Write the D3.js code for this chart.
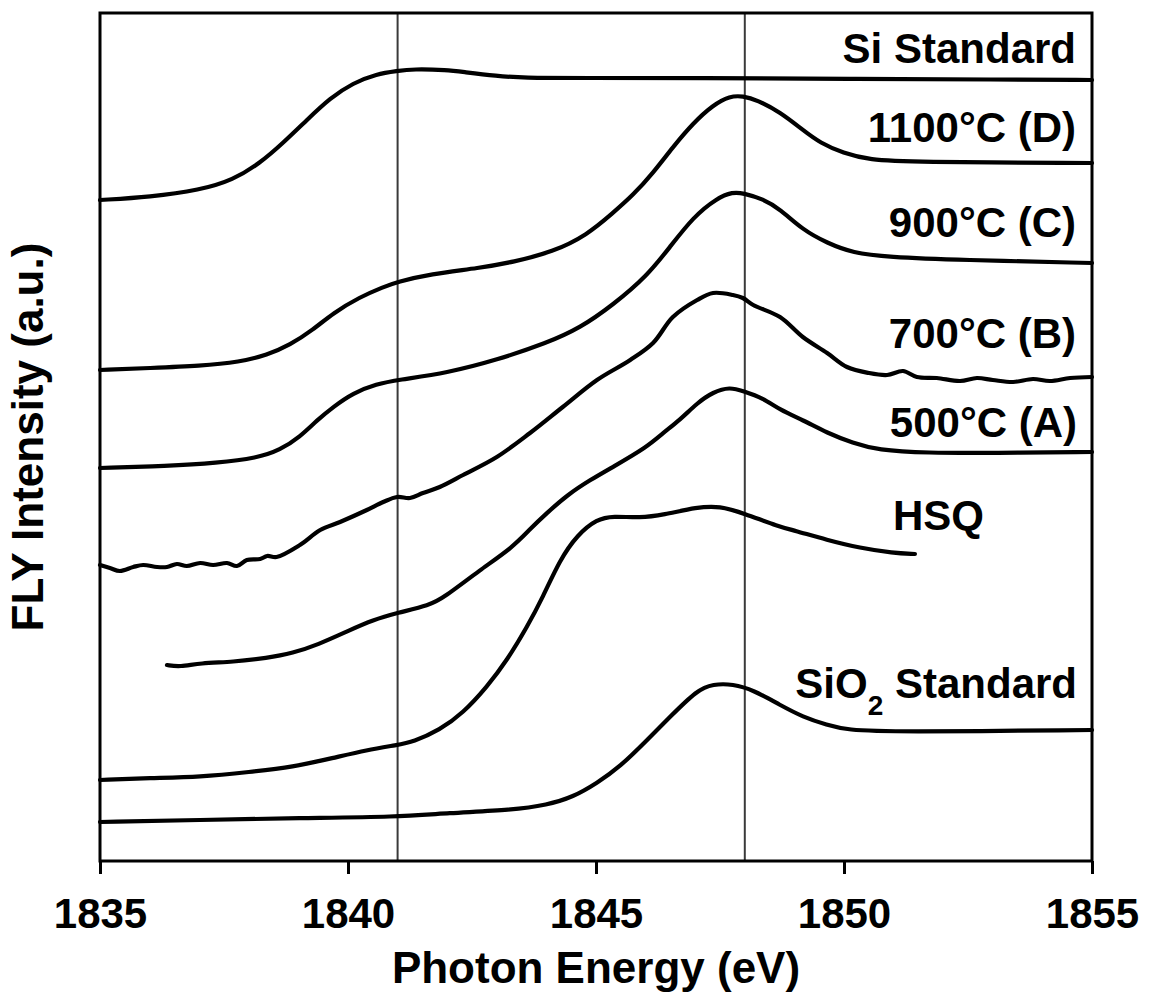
<!DOCTYPE html>
<html>
<head>
<meta charset="utf-8">
<script src="https://cdn.jsdelivr.net/npm/d3@7"></script>
<style>
  html, body { margin: 0; padding: 0; background: #fff; }
  svg { display: block; }
  text { font-family: "Liberation Sans", Arial, Helvetica, sans-serif; font-weight: bold; fill: #000; }
</style>
</head>
<body>
<svg id="chart" width="1151" height="997"></svg>
<script>
// Si K-edge FLY XANES spectra, curves offset vertically (arbitrary units)
const xTicks = [1835, 1840, 1845, 1850, 1855];
const refLines = [1841, 1848];

const siStandard = [
  [1835.00, 6.61], [1836.01, 6.64], [1837.02, 6.71], [1837.68, 6.81], [1838.23, 6.98],
  [1838.69, 7.18], [1839.17, 7.41], [1839.64, 7.63], [1840.10, 7.78], [1840.58, 7.87],
  [1840.99, 7.90], [1841.31, 7.92], [1842.00, 7.91], [1842.32, 7.89], [1843.00, 7.85],
  [1843.53, 7.83], [1844.68, 7.83], [1847.10, 7.83], [1850.10, 7.82], [1853.15, 7.815],
  [1855.00, 7.81]
];

const t1100 = [
  [1835.00, 4.91], [1836.01, 4.93], [1837.02, 4.95], [1837.82, 4.99], [1838.37, 5.06],
  [1838.83, 5.16], [1839.29, 5.31], [1839.70, 5.48], [1840.24, 5.64], [1840.71, 5.74],
  [1840.99, 5.79], [1841.65, 5.87], [1842.66, 5.93], [1843.33, 5.99], [1844.13, 6.09],
  [1844.82, 6.26], [1845.34, 6.48], [1845.75, 6.66], [1846.15, 6.88], [1846.55, 7.14],
  [1846.96, 7.38], [1847.36, 7.56], [1847.70, 7.65], [1847.96, 7.65], [1848.25, 7.61],
  [1848.71, 7.49], [1849.17, 7.31], [1849.52, 7.18], [1849.98, 7.08], [1850.52, 7.01],
  [1851.33, 6.99], [1855.00, 6.98]
];

const t900 = [
  [1835.00, 3.93], [1836.35, 3.95], [1837.36, 3.98], [1838.17, 4.03], [1838.63, 4.11],
  [1839.03, 4.24], [1839.38, 4.41], [1839.70, 4.54], [1840.10, 4.68], [1840.58, 4.77],
  [1840.99, 4.81], [1842.00, 4.88], [1843.00, 5.01], [1844.01, 5.18], [1844.68, 5.33],
  [1845.34, 5.56], [1846.03, 5.85], [1846.49, 6.14], [1846.96, 6.44], [1847.44, 6.63],
  [1847.76, 6.69], [1847.96, 6.68], [1848.37, 6.62], [1848.71, 6.52], [1849.17, 6.31],
  [1849.66, 6.18], [1850.18, 6.08], [1850.87, 6.04], [1852.34, 6.01], [1855.00, 5.98]
];

const t700 = [
  [1835.00, 2.96], [1835.20, 2.93], [1835.40, 2.90], [1835.67, 2.94], [1835.87, 2.96],
  [1836.15, 2.94], [1836.35, 2.94], [1836.55, 2.97], [1836.75, 2.95], [1837.02, 2.98],
  [1837.28, 2.96], [1837.56, 2.98], [1837.76, 2.95], [1837.96, 3.01], [1838.23, 3.02],
  [1838.37, 3.05], [1838.56, 3.04], [1839.03, 3.16], [1839.44, 3.31], [1839.84, 3.39],
  [1840.38, 3.51], [1840.71, 3.59], [1840.99, 3.64], [1841.25, 3.63], [1841.51, 3.68],
  [1841.85, 3.74], [1842.32, 3.86], [1843.00, 4.04], [1843.67, 4.28], [1844.33, 4.54],
  [1845.02, 4.81], [1845.69, 5.01], [1846.15, 5.18], [1846.55, 5.44], [1847.04, 5.61],
  [1847.36, 5.68], [1847.76, 5.66], [1847.96, 5.63], [1848.17, 5.56], [1848.71, 5.44],
  [1849.17, 5.24], [1849.66, 5.08], [1850.06, 4.94], [1850.50, 4.88], [1850.87, 4.86],
  [1851.19, 4.90], [1851.47, 4.84], [1851.87, 4.83], [1852.34, 4.80], [1852.68, 4.83],
  [1853.00, 4.81], [1853.41, 4.79], [1853.81, 4.82], [1854.15, 4.80], [1854.56, 4.83],
  [1855.00, 4.84]
];

const t500 = [
  [1836.35, 1.96], [1836.61, 1.94], [1837.02, 1.98], [1837.68, 1.99], [1838.37, 2.03],
  [1838.89, 2.08], [1839.38, 2.16], [1840.04, 2.31], [1840.50, 2.41], [1840.99, 2.48],
  [1841.65, 2.56], [1841.92, 2.63], [1842.66, 2.91], [1843.33, 3.14], [1843.67, 3.32],
  [1844.01, 3.48], [1844.42, 3.66], [1844.88, 3.81], [1845.34, 3.94], [1846.03, 4.14],
  [1846.35, 4.28], [1846.69, 4.41], [1847.04, 4.58], [1847.36, 4.69], [1847.70, 4.74],
  [1847.96, 4.70], [1848.37, 4.63], [1848.71, 4.51], [1849.17, 4.41], [1849.66, 4.28],
  [1850.18, 4.18], [1850.67, 4.11], [1851.67, 4.08], [1853.00, 4.08], [1855.00, 4.09]
];

const hsq = [
  [1835.00, 0.81], [1836.01, 0.83], [1837.02, 0.84], [1838.02, 0.89], [1838.89, 0.94],
  [1839.70, 1.03], [1840.38, 1.11], [1840.99, 1.16], [1841.31, 1.19], [1841.85, 1.31],
  [1842.32, 1.48], [1842.80, 1.74], [1843.21, 2.01], [1843.61, 2.34], [1843.93, 2.64],
  [1844.27, 3.01], [1844.62, 3.26], [1845.02, 3.42], [1845.34, 3.45], [1845.89, 3.43],
  [1846.35, 3.46], [1847.04, 3.54], [1847.50, 3.55], [1847.96, 3.48], [1848.71, 3.34],
  [1848.97, 3.31], [1849.66, 3.21], [1850.32, 3.13], [1850.99, 3.08], [1851.43, 3.07]
];

const sio2Standard = [
  [1835.00, 0.39], [1837.02, 0.41], [1839.03, 0.43], [1840.99, 0.44], [1842.00, 0.48],
  [1843.33, 0.51], [1844.01, 0.56], [1844.54, 0.64], [1845.02, 0.78], [1845.48, 0.94],
  [1846.03, 1.21], [1846.49, 1.44], [1847.04, 1.71], [1847.36, 1.77], [1847.76, 1.77],
  [1848.17, 1.71], [1848.71, 1.56], [1849.17, 1.44], [1849.66, 1.36], [1850.06, 1.31],
  [1850.99, 1.29], [1855.00, 1.31]
];

// smooth scans and the one noisy scan
const smoothSeries = [siStandard, t1100, t900, t500, hsq, sio2Standard];
const noisySeries = [t700];

const svg = d3.select("#chart");
const margin = { left: 100, right: 59, top: 13, bottom: 136 };
const W = 1151, H = 997;

const x = d3.scaleLinear().domain([1835, 1855]).range([margin.left, W - margin.right]);
const y = d3.scaleLinear().domain([0, 8.48]).range([H - margin.bottom, margin.top]);

// reference energies
svg.append("g").selectAll("line").data(refLines).join("line")
  .attr("x1", d => x(d)).attr("x2", d => x(d))
  .attr("y1", y.range()[1]).attr("y2", y.range()[0])
  .attr("stroke", "#3a3a3a").attr("stroke-width", 2);

// spectra
const smoothLine = d3.line().x(d => x(d[0])).y(d => y(d[1])).curve(d3.curveBasis);
const noisyLine = d3.line().x(d => x(d[0])).y(d => y(d[1])).curve(d3.curveCatmullRom.alpha(0.5));
const curves = svg.append("g")
  .attr("fill", "none").attr("stroke", "#000").attr("stroke-width", 4.2)
  .attr("stroke-linejoin", "round").attr("stroke-linecap", "round");
curves.selectAll("path.smooth").data(smoothSeries).join("path").attr("class", "smooth").attr("d", smoothLine);
curves.selectAll("path.noisy").data(noisySeries).join("path").attr("class", "noisy").attr("d", noisyLine);

// frame
svg.append("rect")
  .attr("x", x.range()[0]).attr("y", y.range()[1])
  .attr("width", x.range()[1] - x.range()[0]).attr("height", y.range()[0] - y.range()[1])
  .attr("fill", "none").attr("stroke", "#000").attr("stroke-width", 3);

// bottom axis
const xAxis = svg.append("g").attr("transform", `translate(0,${y.range()[0]})`)
  .call(d3.axisBottom(x).tickValues(xTicks).tickFormat(d3.format("d")).tickSize(13).tickPadding(24));
xAxis.select(".domain").remove();
xAxis.selectAll(".tick line").attr("stroke", "#000").attr("stroke-width", 3);
xAxis.selectAll(".tick text")
  .attr("font-size", 42).attr("font-family", "'Liberation Sans', Arial, sans-serif")
  .attr("font-weight", "bold").attr("fill", "#000");

// axis titles
svg.append("text").attr("x", (x.range()[0] + x.range()[1]) / 2).attr("y", 983)
  .attr("text-anchor", "middle").attr("font-size", 44).text("Photon Energy (eV)");
svg.append("text").attr("transform", `translate(43,${(y.range()[0] + y.range()[1]) / 2}) rotate(-90)`)
  .attr("text-anchor", "middle").attr("font-size", 44).text("FLY Intensity (a.u.)");

// curve labels
const labels = [
  { text: "Si Standard", y: 63, anchor: "end", x: 1076 },
  { text: "1100°C (D)", y: 142, anchor: "end", x: 1076 },
  { text: "900°C (C)", y: 237, anchor: "end", x: 1076 },
  { text: "700°C (B)", y: 348, anchor: "end", x: 1076 },
  { text: "500°C (A)", y: 437, anchor: "end", x: 1077 },
  { text: "HSQ", y: 530, anchor: "start", x: 893 }
];
svg.append("g").selectAll("text").data(labels).join("text")
  .attr("x", d => d.x).attr("y", d => d.y)
  .attr("text-anchor", d => d.anchor).attr("font-size", 42)
  .text(d => d.text);

const sio2 = svg.append("text").attr("x", 1077).attr("y", 698)
  .attr("text-anchor", "end").attr("font-size", 42);
sio2.append("tspan").text("SiO");
sio2.append("tspan").attr("font-size", 28).attr("dy", 17).text("2");
sio2.append("tspan").attr("dy", -17).text(" Standard");
</script>
</body>
</html>
